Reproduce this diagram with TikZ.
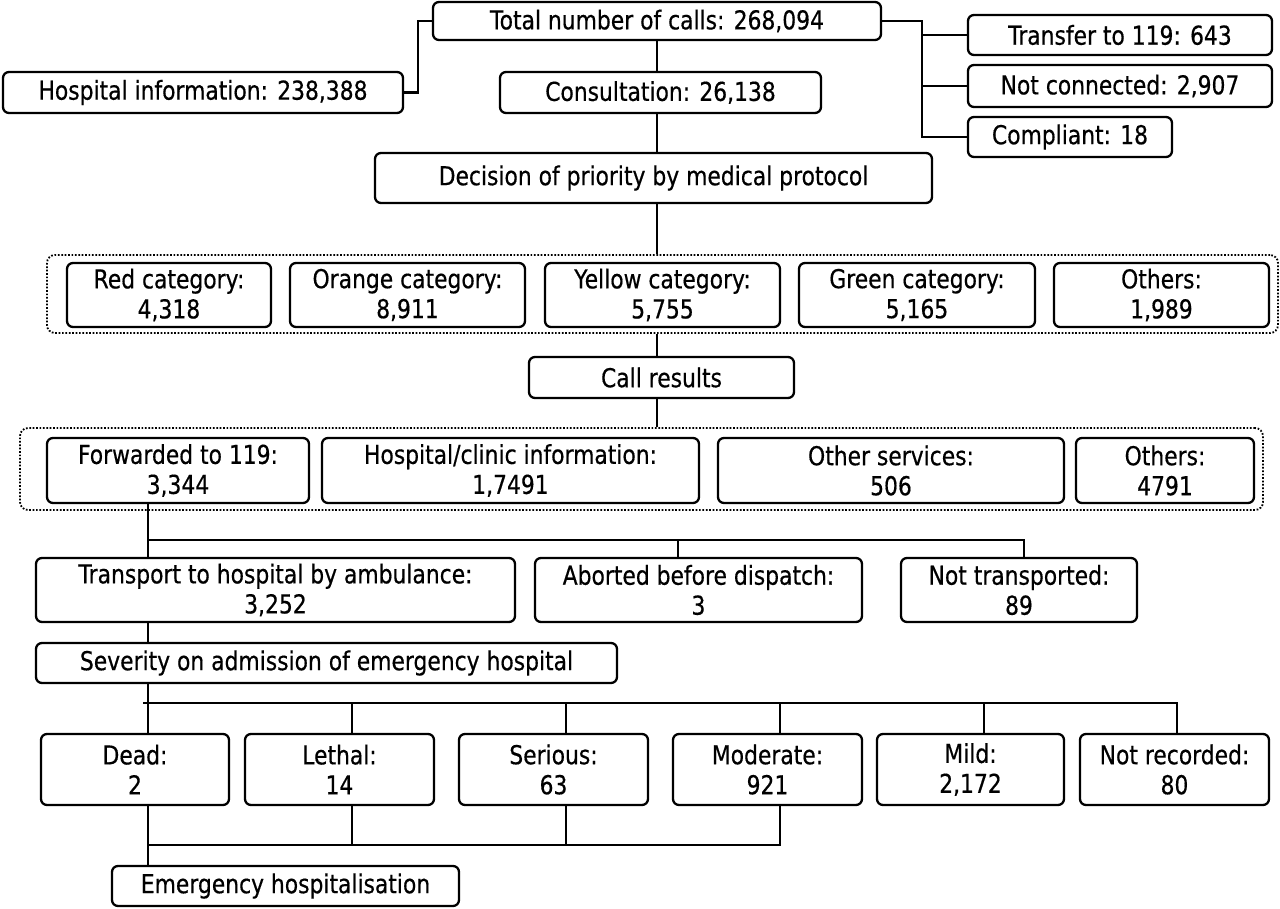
\documentclass[tikz,border=0pt]{standalone}
\usepackage{fontspec}
\setmainfont{DejaVu Sans}[FakeStretch=0.84,FakeBold=0.5]
\begin{document}
\begin{tikzpicture}[x=1pt,y=-1pt,
  box/.style={draw, line width=2.3pt, rounded corners=6pt, inner sep=0pt, align=center,
    font=\fontsize{26}{30}\selectfont},
  grp/.style={draw, line width=1.8pt, dash pattern=on 1.7pt off 1.7pt, rounded corners=8pt, inner sep=0pt},
  conn/.style={line width=2.3pt}]
\useasboundingbox[fill=white] (0,0) rectangle (1280,908);
% top
\node[box, minimum width=448, minimum height=38] (total) at (657,21) {Total number of calls: 268,094};
\node[box, minimum width=400, minimum height=41] (hosp) at (203,92.5) {Hospital information: 238,388};
\node[box, minimum width=321, minimum height=41] (cons) at (660.5,92.5) {Consultation: 26,138};
\node[box, minimum width=557, minimum height=50] (dec) at (653.5,178) {Decision of priority by medical protocol};
\node[box, minimum width=304, minimum height=40] (transfer) at (1120,35) {Transfer to 119: 643};
\node[box, minimum width=304, minimum height=42] (notconn) at (1120,86) {Not connected: 2,907};
\node[box, minimum width=204, minimum height=40] (compl) at (1070,137) {Compliant: 18};
% group 1
\node[grp, minimum width=1231, minimum height=78] (g1) at (662.5,294) {};
\node[box, minimum width=204, minimum height=64] (red) at (169,295) {Red category:\\4,318};
\node[box, minimum width=235, minimum height=64] (orange) at (407.5,295) {Orange category:\\8,911};
\node[box, minimum width=235, minimum height=64] (yellow) at (662.5,295) {Yellow category:\\5,755};
\node[box, minimum width=236, minimum height=64] (green) at (917,295) {Green category:\\5,165};
\node[box, minimum width=215, minimum height=64] (oth1) at (1161.5,295) {Others:\\1,989};
\node[box, minimum width=265, minimum height=41] (calls) at (661.5,377.5) {Call results};
% group 2
\node[grp, minimum width=1243, minimum height=82] (g2) at (641.5,469) {};
\node[box, minimum width=262, minimum height=65] (fwd) at (178,470.5) {Forwarded to 119:\\3,344};
\node[box, minimum width=377, minimum height=65] (hc) at (510.5,470.5) {Hospital/clinic information:\\1,7491};
\node[box, minimum width=346, minimum height=65] (os) at (891,470.5) {Other services:\\506};
\node[box, minimum width=178, minimum height=65] (oth2) at (1165,470.5) {Others:\\4791};
% transport row
\node[box, minimum width=479, minimum height=64] (trans) at (275.5,590) {Transport to hospital by ambulance:\\3,252};
\node[box, minimum width=327, minimum height=64] (abort) at (698.5,590) {Aborted before dispatch:\\3};
\node[box, minimum width=236, minimum height=64] (nottr) at (1019,590) {Not transported:\\89};
\node[box, minimum width=581, minimum height=40] (sev) at (326.5,663) {Severity on admission of emergency hospital};
% severity row
\node[box, minimum width=188, minimum height=71] (dead) at (135,769.5) {Dead:\\2};
\node[box, minimum width=189, minimum height=71] (lethal) at (339.5,769.5) {Lethal:\\14};
\node[box, minimum width=189, minimum height=71] (serious) at (553.5,769.5) {Serious:\\63};
\node[box, minimum width=189, minimum height=71] (moderate) at (767.5,769.5) {Moderate:\\921};
\node[box, minimum width=187, minimum height=71] (mild) at (970.5,769.5) {Mild:\\2,172};
\node[box, minimum width=189, minimum height=71] (notrec) at (1174.5,769.5) {Not recorded:\\80};
\node[box, minimum width=347, minimum height=40] (emerg) at (285.5,886) {Emergency hospitalisation};
% junction coordinates
\coordinate (cx) at (657,0);
\coordinate (lj) at (418,0);
\coordinate (rj) at (922,0);
\coordinate (j1) at (148,540);
\coordinate (ja) at (678,540);
\coordinate (jn) at (1024,540);
\coordinate (j2) at (148,703);
\coordinate (j2s) at (143,703);
\coordinate (xl) at (352,0);
\coordinate (xs) at (566,0);
\coordinate (xm) at (780,0);
\coordinate (xd) at (984,0);
\coordinate (xr) at (1177,0);
\coordinate (j3) at (148,845);
% connectors top
\draw[conn] (hosp.east) -- (hosp.east -| lj) -- (lj |- total.west) -- (total.west);
\draw[conn] (total.east) -- (total.east -| rj) -- (rj |- compl.west) -- (compl.west);
\draw[conn] (rj |- transfer.west) -- (transfer.west);
\draw[conn] (rj |- notconn.west) -- (notconn.west);
\draw[conn] (total.south -| cx) -- (cons.north -| cx);
\draw[conn] (cons.south -| cx) -- (dec.north -| cx);
\draw[conn] (dec.south -| cx) -- (g1.north -| cx);
\draw[conn] (g1.south -| cx) -- (calls.north -| cx);
\draw[conn] (calls.south -| cx) -- (g2.north -| cx);
% transport
\draw[conn] (fwd.south -| j1) -- (j1) -- (jn) -- (nottr.north -| jn);
\draw[conn] (j1) -- (trans.north -| j1);
\draw[conn] (ja) -- (abort.north -| ja);
\draw[conn] (trans.south -| j1) -- (sev.north -| j1);
% severity
\draw[conn] (sev.south -| j2) -- (j2) -- (dead.north -| j2);
\draw[conn] (j2s) -- (j2s -| xr) -- (notrec.north -| xr);
\draw[conn] (lethal.north -| xl) -- (xl |- j2);
\draw[conn] (serious.north -| xs) -- (xs |- j2);
\draw[conn] (moderate.north -| xm) -- (xm |- j2);
\draw[conn] (mild.north -| xd) -- (xd |- j2);
% bottom
\draw[conn] (dead.south -| j3) -- (emerg.north -| j3);
\draw[conn] (j3) -- (j3 -| xm) -- (moderate.south -| xm);
\draw[conn] (lethal.south -| xl) -- (xl |- j3);
\draw[conn] (serious.south -| xs) -- (xs |- j3);
\end{tikzpicture}
\end{document}
